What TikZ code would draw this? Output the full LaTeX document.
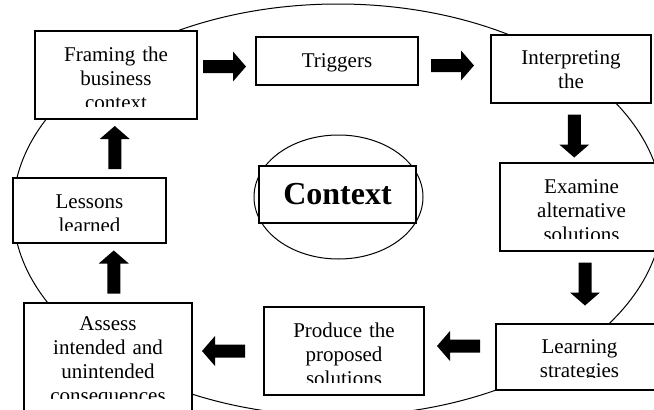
\documentclass[tikz,border=0pt]{standalone}
\usepackage{fontspec}
\setmainfont{Liberation Serif}
\usetikzlibrary{calc, positioning}

\tikzset{
  box/.style={draw, line width=1.3pt, fill=white, inner sep=0pt},
  txt/.style={align=center, inner sep=0pt, font=\fontsize{21}{24}\selectfont},
  blk/.pic={\fill (-21.5,-6.5) -- (8.5,-6.5) -- (8.5,-15) -- (21.5,0) -- (8.5,15) -- (8.5,6.5) -- (-21.5,6.5) -- cycle;}
}
% text that is cut off at the lower edge of its box
\newcommand{\cliptext}[4]{%
  \begin{scope}
    \clip ([shift={(2pt,-2pt)}]#1.north west) rectangle ([shift={(-2pt,13pt)}]#1.south east);
    \node[txt, text width=#3, anchor=base] (#1 text) at ([yshift=-#2]#1.north) {#4};
  \end{scope}}

\begin{document}
\begin{tikzpicture}[x=1pt, y=1pt]
\useasboundingbox (0,0) rectangle (654,-410);
\draw[line width=1pt] (338,-210) ellipse [x radius=325, y radius=206];
%
\node[box, minimum width=162pt, minimum height=88pt] (frame) at (116,-75) {};
\node[box, minimum width=162pt, minimum height=48pt] (trig) at (337,-61) {};
\node[box, minimum width=160pt, minimum height=68pt] (interp) at (571,-69) {};
\node[box, minimum width=163pt, minimum height=88pt] (exam) at (581.5,-207) {};
\node[box, minimum width=167pt, minimum height=66pt] (learn) at (579.5,-357) {};
\node[box, minimum width=160pt, minimum height=88pt] (prod) at (344,-351) {};
\node[box, minimum width=168pt, minimum height=108pt] (assess) at (108,-357) {};
\node[box, minimum width=153pt, minimum height=65pt] (lessons) at (89.5,-210.5) {};
%
\draw[line width=1pt] (338.5,-197) ellipse [x radius=84.5, y radius=62];
\node[box, minimum width=157pt, minimum height=57pt, font=\fontsize{32}{36}\bfseries\selectfont] (ctx) at (337.5,-194.5) {Context};
%
\cliptext{frame}{31pt}{154pt}{Framing the\\business\\context}
\cliptext{trig}{31pt}{154pt}{Triggers}
\cliptext{interp}{30pt}{152pt}{Interpreting\\the}
\cliptext{exam}{31pt}{155pt}{Examine\\alternative\\solutions}
\cliptext{learn}{30pt}{159pt}{Learning\\strategies}
\cliptext{prod}{31pt}{152pt}{Produce the\\proposed\\solutions}
\cliptext{assess}{28pt}{160pt}{Assess\\intended and\\unintended\\consequences}
\cliptext{lessons}{31pt}{145pt}{Lessons\\learned}
%
\pic at ($(frame.east)!.5!(trig.west)+(-2,1.5)$) {blk};
\pic at ($(trig.east)!.5!(interp.west)+(-2,-0.5)$) {blk};
\pic[rotate=-90] at ($(interp.south)!.5!(exam.north)+(-2,-3)$) {blk};
\pic[rotate=-90] at ($(exam.south)!.5!(learn.north)+(4.5,3.5)$) {blk};
\pic[rotate=180] at ($(learn.west)!.5!(prod.east)+(-1.5,8)$) {blk};
\pic[rotate=180] at ($(prod.west)!.5!(assess.east)+(-4.5,3)$) {blk};
\pic[rotate=90] at ($(assess.north)!.5!(lessons.south)+(15,1)$) {blk};
\pic[rotate=90] at ($(lessons.north)!.5!(frame.south)+(12,1)$) {blk};
\end{tikzpicture}
\end{document}
